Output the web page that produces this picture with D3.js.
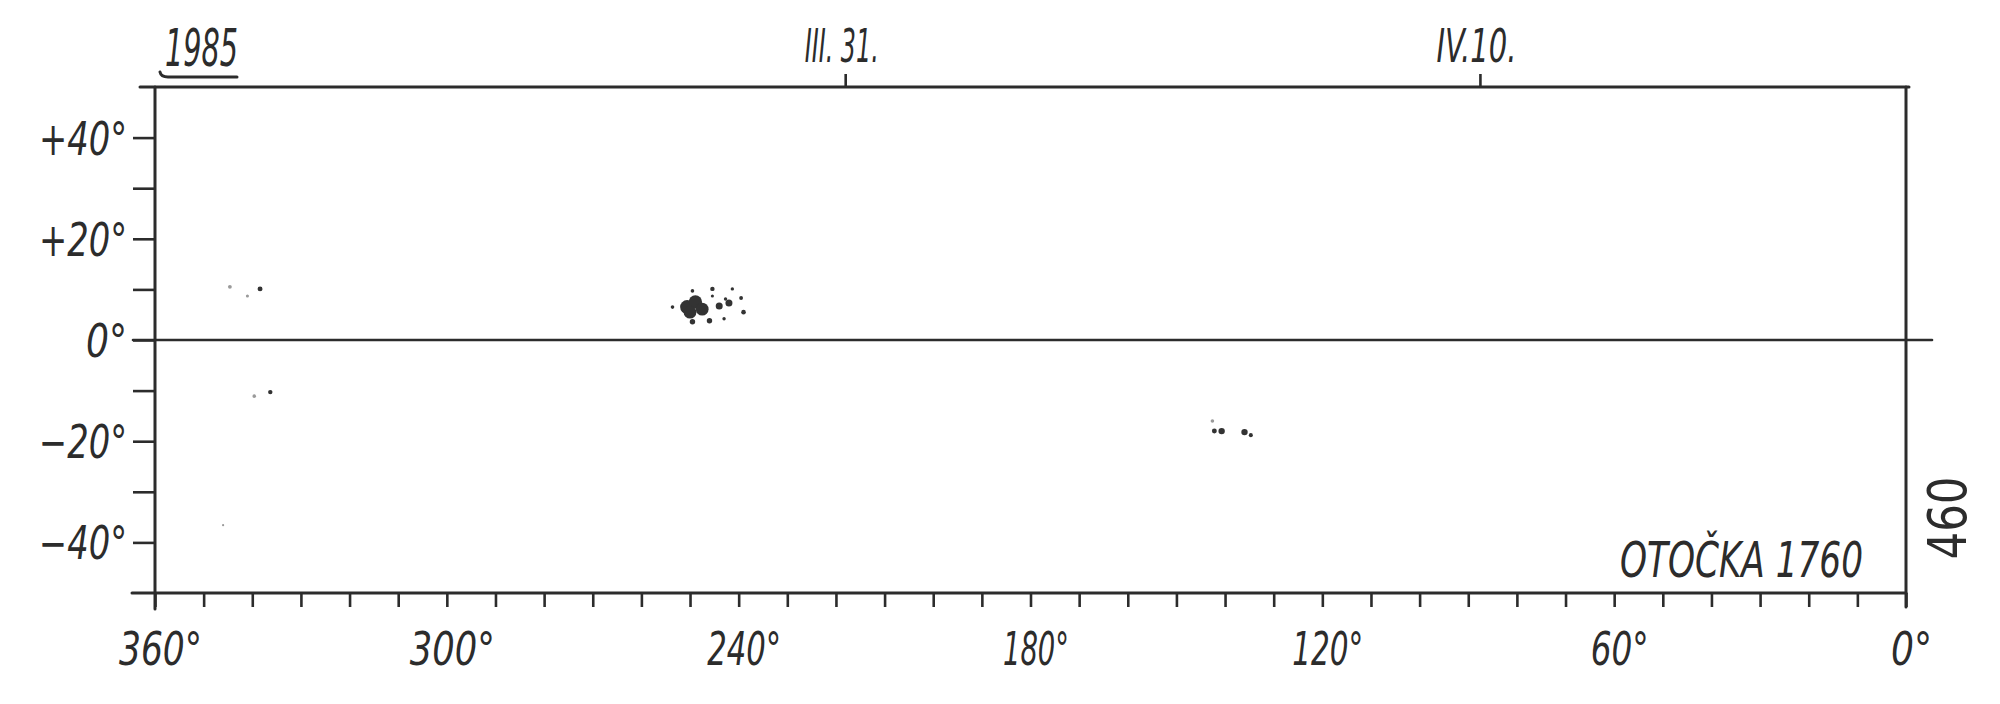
<!DOCTYPE html>
<html><head><meta charset="utf-8">
<script src="https://cdn.jsdelivr.net/npm/d3@7"></script>
<style>
body{margin:0;background:#fff}
svg{display:block;background:#fff}
</style>
</head><body><svg id="c" width="2000" height="704"></svg>
<script>
// ---- data ----
const lonTicks = d3.range(0, 361, 10);
const lonLabels = [360, 300, 240, 180, 120, 60, 0];
const latTicks = [-40, -30, -20, -10, 0, 10, 20, 30, 40];
const latLabels = [40, 20, 0, -20, -40];
const dateLabels = ["III. 31.", "IV.10."];
const dateLons = [218.1, 87.6];
const yearLabel = "1985";
const rotationLabel = "OTOČKA 1760";
const sideLabel = "460";

// sunspots (Carrington longitude, latitude, relative area)
const spotLon  = [338.4, 336.3, 250.6, 248.9, 247.5, 250.0, 253.6, 249.5, 249.5, 246.0, 245.4, 245.4, 244.0, 242.7, 242.0, 243.0, 241.3, 239.5, 239.0, 142.2, 140.7, 136.0, 134.7];
const spotLat  = [10.1, -10.3, 6.5, 7.5, 6.1, 5.5, 6.5, 9.7, 3.6, 3.8, 10.1, 8.7, 6.7, 8.1, 7.3, 4.2, 10.1, 8.3, 5.5, -18.0, -18.0, -18.2, -18.8];
const spotArea = [1.5, 1.2, 12, 11, 10, 10, 0.8, 0.8, 1.8, 1.8, 1.2, 0.6, 3, 0.7, 3, 0.7, 0.7, 0.9, 1.3, 1.5, 2.5, 2.5, 1.0];
// faint markings
const faintLon  = [344.6, 341.0, 339.6, 142.6, 346.0];
const faintLat  = [10.5, 8.7, -11.1, -16.0, -36.6];
const faintArea = [0.9, 0.6, 0.8, 0.8, 0.3];

// ---- drawing ----
const svg = d3.select("#c");
const ink = "#2c2c2c";
const FONT = '"Liberation Sans Narrow","DejaVu Sans Condensed","Liberation Sans",sans-serif';
const x = d3.scaleLinear().domain([360, 0]).range([155, 1906]);
const y = d3.scaleLinear().domain([-50, 50]).range([593, 87]);
const r = d3.scaleSqrt().domain([0, 12]).range([0, 7]);

function styleText(sel, size) {
  sel.attr("font-family", FONT).attr("font-style", "italic")
     .attr("font-size", size).attr("fill", ink).attr("stroke", "none");
}

// frame lines
const frame = svg.append("g").attr("stroke", ink).attr("stroke-width", 3).attr("fill", "none").attr("stroke-linecap", "round");
frame.append("line").attr("x1", 140).attr("x2", x(0) + 3).attr("y1", y(50)).attr("y2", y(50));
frame.append("line").attr("x1", x(360)).attr("x2", x(360)).attr("y1", y(50)).attr("y2", y(-50) + 16);
frame.append("line").attr("x1", x(0)).attr("x2", x(0)).attr("y1", y(50)).attr("y2", y(-50) + 14);
frame.append("line").attr("x1", 132).attr("x2", x(0)).attr("y1", y(-50)).attr("y2", y(-50));
frame.append("line").attr("x1", 133).attr("x2", 1932).attr("y1", y(0)).attr("y2", y(0)).attr("stroke-width", 2.6);

// bottom axis
const bx = svg.append("g").attr("transform", `translate(0,${y(-50)})`)
  .call(d3.axisBottom(x).tickValues(lonTicks).tickSize(14).tickSizeOuter(0)
        .tickFormat(d => lonLabels.includes(d) ? d + "°" : ""));
bx.select(".domain").remove();
bx.selectAll(".tick line").attr("stroke", ink).attr("stroke-width", 2.6);
const bw = {360: 83, 300: 85, 240: 74, 180: 66, 120: 71, 60: 58, 0: 41};
bx.selectAll(".tick text").each(function(d) {
  const t = d3.select(this);
  styleText(t, 47);
  t.attr("y", 72).attr("dy", 0).attr("x", 5);
  if (bw[d] !== undefined) t.attr("textLength", bw[d]).attr("lengthAdjust", "spacingAndGlyphs");
});

// left axis
const ly = svg.append("g").attr("transform", `translate(${x(360)},0)`)
  .call(d3.axisLeft(y).tickValues(latTicks).tickSize(22).tickSizeOuter(0).tickPadding(6)
        .tickFormat(d => latLabels.includes(d) ? (d > 0 ? "+" + d : d < 0 ? "\u2212" + (-d) : "0") + "°" : ""));
ly.select(".domain").remove();
ly.selectAll(".tick line").attr("stroke", ink).attr("stroke-width", 2.6);
ly.selectAll(".tick text").each(function(d) {
  const t = d3.select(this);
  styleText(t, 46);
  t.attr("dy", "0.36em").attr("x", -28);
  if (latLabels.includes(d)) t.attr("textLength", d === 0 ? 41 : 88).attr("lengthAdjust", "spacingAndGlyphs");
});

// top date axis
const tx = svg.append("g").attr("transform", `translate(0,${y(50)})`)
  .call(d3.axisTop(x).tickValues(dateLons).tickSize(13).tickSizeOuter(0)
        .tickFormat((d, i) => dateLabels[i]));
tx.select(".domain").remove();
tx.selectAll(".tick line").attr("stroke", ink).attr("stroke-width", 2.6);
tx.selectAll(".tick text").each(function(d, i) {
  const t = d3.select(this);
  styleText(t, 47);
  t.attr("y", -25).attr("dy", 0).attr("x", -4)
   .attr("textLength", i === 0 ? 74 : 80).attr("lengthAdjust", "spacingAndGlyphs");
});

// year label with underline
const yr = svg.append("text").attr("x", 165).attr("y", 66).text(yearLabel);
styleText(yr, 52);
yr.attr("textLength", 73).attr("lengthAdjust", "spacingAndGlyphs");
svg.append("path").attr("d", "M160,72 Q161,77 168,77 L237,77")
  .attr("stroke", ink).attr("stroke-width", 3).attr("fill", "none").attr("stroke-linecap", "round");

// rotation label
const rl = svg.append("text").attr("x", 1620).attr("y", 577).text(rotationLabel);
styleText(rl, 50);
rl.attr("textLength", 243).attr("lengthAdjust", "spacingAndGlyphs");

// side label (rotated)
const sl = svg.append("text").attr("transform", "translate(1966,518) rotate(-90)")
  .attr("text-anchor", "middle").text(sideLabel);
styleText(sl, 54);
sl.attr("font-style", "normal").attr("textLength", 83).attr("lengthAdjust", "spacingAndGlyphs");

// spots
const spots = spotLon.map((lon, i) => ({lon, lat: spotLat[i], area: spotArea[i]}));
const faint = faintLon.map((lon, i) => ({lon, lat: faintLat[i], area: faintArea[i]}));
svg.append("g").selectAll("circle").data(faint).join("circle")
  .attr("cx", d => x(d.lon)).attr("cy", d => y(d.lat)).attr("r", d => r(d.area))
  .attr("fill", "#9a9a9a");
svg.append("g").selectAll("circle").data(spots).join("circle")
  .attr("cx", d => x(d.lon)).attr("cy", d => y(d.lat)).attr("r", d => r(d.area))
  .attr("fill", "#333");
</script>
</body></html>
